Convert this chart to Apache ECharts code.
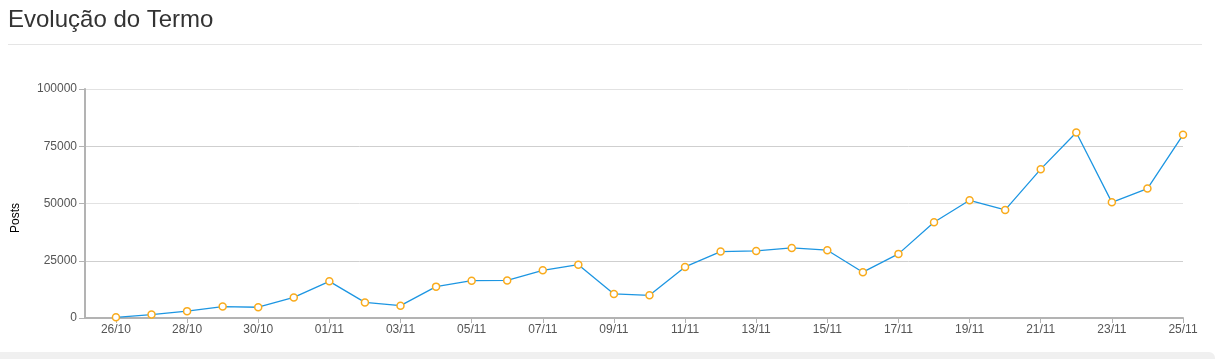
<!DOCTYPE html>
<html>
<head>
<meta charset="utf-8">
<script src="https://cdn.jsdelivr.net/npm/echarts@6/dist/echarts.min.js"></script>
<style>
  html, body { margin: 0; padding: 0; background: #ffffff; }
  #wrap { position: relative; width: 1218px; height: 359px; overflow: hidden; background: #ffffff; }
  #chart { position: absolute; left: 0; top: 0; width: 1218px; height: 359px; }
  #sep { position: absolute; left: 8px; top: 44px; width: 1194px; height: 1px; background: #e5e5e5; }
  #strip { position: absolute; left: 0; top: 352px; width: 1215px; height: 10px; background: #f0f0f0; border-top-right-radius: 6px; }
</style>
</head>
<body>
<div id="wrap">
  <div id="strip"></div>
  <div id="sep"></div>
  <div id="chart"></div>
</div>
<script>
// Categories (dates)
const categories = [
  "26/10","27/10","28/10","29/10","30/10","31/10",
  "01/11","02/11","03/11","04/11","05/11","06/11","07/11","08/11","09/11","10/11",
  "11/11","12/11","13/11","14/11","15/11","16/11","17/11","18/11","19/11","20/11",
  "21/11","22/11","23/11","24/11","25/11"
];
// Posts per day
const posts = [
  300, 1500, 3000, 5000, 4700, 9000,
  16000, 6800, 5400, 13700, 16300, 16400, 20800, 23300, 10500, 9900,
  22300, 29000, 29300, 30600, 29600, 20000, 28000, 41800, 51400, 47200,
  65000, 81000, 50500, 56500, 80000
];
// Labelled tick indices (every second day)
const tickIndices = [0,2,4,6,8,10,12,14,16,18,20,22,24,26,28,30];
const yTicks = [0, 25000, 50000, 75000, 100000];

const chart = echarts.init(document.getElementById('chart'), null, { renderer: 'canvas' });
const axisGrey = '#b3b3b3';
const labelGrey = '#555555';

chart.setOption({
  animation: false,
  title: {
    text: 'Evolução do Termo',
    left: 3,
    top: 3,
    textStyle: { fontFamily: 'Liberation Sans, Arial, sans-serif', fontSize: 24, fontWeight: 'normal', color: '#333333' }
  },
  graphic: [{
    type: 'text',
    left: 10,
    top: 203,
    rotation: Math.PI / 2,
    style: { text: 'Posts', font: '12px "Liberation Sans", Arial, sans-serif', fill: '#000000' }
  }],
  grid: { left: 85, right: 35, top: 89, bottom: 41, containLabel: false },
  xAxis: {
    type: 'value',
    min: -0.87,
    max: 30,
    axisLine: { show: true, onZero: false, lineStyle: { color: axisGrey, width: 2 } },
    axisTick: { show: true, customValues: tickIndices, length: 5, lineStyle: { color: axisGrey, width: 1 } },
    axisLabel: {
      customValues: tickIndices,
      margin: 6,
      color: labelGrey,
      fontSize: 12,
      fontFamily: 'Liberation Sans, Arial, sans-serif',
      formatter: function (v) { return categories[Math.round(v)]; }
    },
    splitLine: { show: false }
  },
  yAxis: {
    type: 'value',
    min: 0,
    max: 100000,
    interval: 25000,
    axisLine: { show: true, onZero: false, lineStyle: { color: axisGrey, width: 2 } },
    axisTick: { show: true, length: 6, lineStyle: { color: axisGrey, width: 1 } },
    axisLabel: {
      margin: 8,
      color: labelGrey,
      fontSize: 12,
      fontFamily: 'Liberation Sans, Arial, sans-serif',
      formatter: function (v) { return String(v); }
    },
    splitLine: { show: true, lineStyle: { color: ['#cfcfcf', '#cfcfcf', '#e2e2e2', '#cfcfcf', '#e2e2e2'], width: 1 } }
  },
  series: [{
    type: 'line',
    data: posts.map(function (v, i) { return [i, v]; }),
    symbol: 'circle',
    symbolSize: 7,
    showSymbol: true,
    lineStyle: { color: '#1d96e2', width: 1.3 },
    itemStyle: { color: '#ffffff', borderColor: '#f9ab1c', borderWidth: 1.5 }
  }]
});
</script>
</body>
</html>
